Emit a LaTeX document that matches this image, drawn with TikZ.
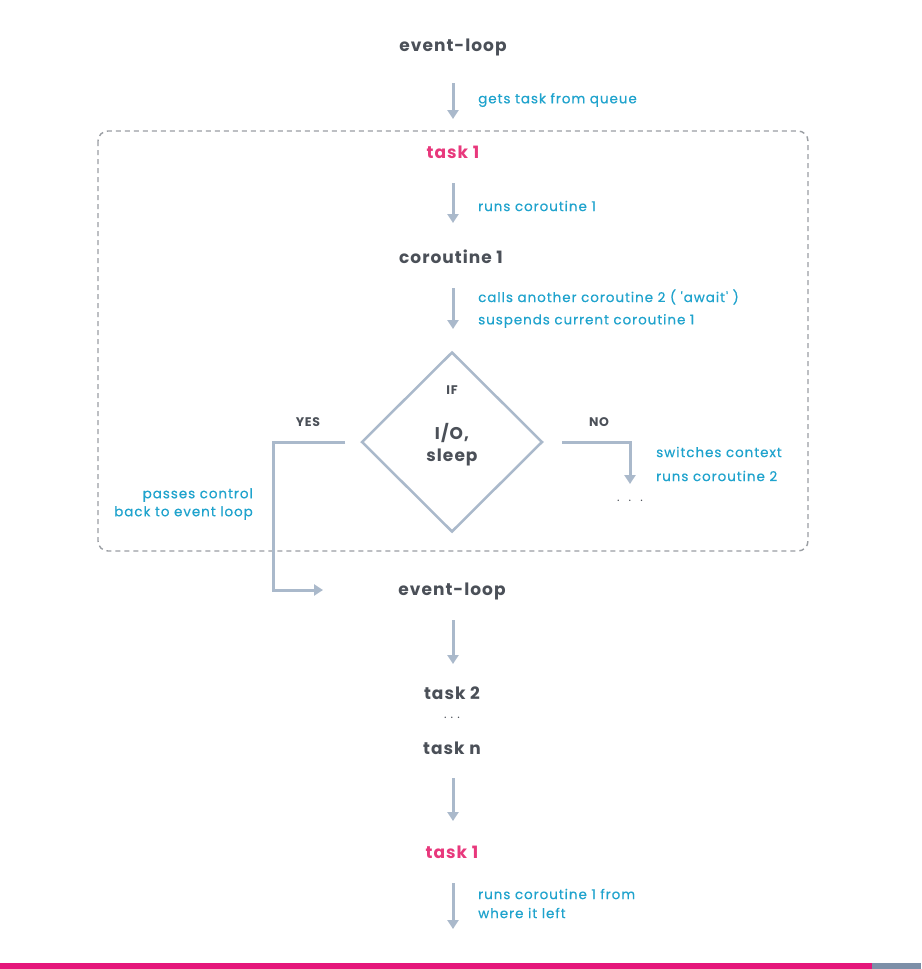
\documentclass[tikz,border=0pt]{standalone}
\usepackage{fontspec}
\setmainfont{Poppins}
\newfontfamily\mainf{Poppins}[LetterSpace=6]
\newfontfamily\sidef{Poppins}[LetterSpace=7,FakeBold=0.4]
\usetikzlibrary{arrows.meta,shapes.geometric}
\definecolor{txtdark}{HTML}{4B5058}
\definecolor{txtpink}{HTML}{E8387C}
\definecolor{txtcyan}{HTML}{1FA3CD}
\definecolor{arrowc}{HTML}{AAB9CB}
\definecolor{boxc}{HTML}{9A9EA3}
\definecolor{barpink}{HTML}{E5177B}
\definecolor{bargrey}{HTML}{7D8FA8}
\tikzset{
  mainlbl/.style={font=\mainf\fontsize{17}{19}\selectfont\bfseries, text=txtdark, inner sep=0pt},
  pinklbl/.style={font=\mainf\fontsize{17}{19}\selectfont\bfseries, text=txtpink, inner sep=0pt},
  sidelbl/.style={font=\sidef\fontsize{13.5}{15}\selectfont, text=txtcyan, inner sep=0pt},
  smalllbl/.style={font=\mainf\fontsize{12.5}{14}\selectfont\bfseries, text=txtdark, inner sep=0pt},
  flowarrow/.style={draw=arrowc, line width=3pt, -{Triangle[width=11pt,length=9pt]}},
  dotslbl/.style={font=\fontsize{12}{14}\selectfont, text=txtdark, inner sep=0pt},
}
\begin{document}
\begin{tikzpicture}[x=1pt,y=-1pt]
\useasboundingbox (0,0) rectangle (921,969);
\fill[white] (0,0) rectangle (921,969);
% bottom bar
\fill[barpink] (0,963) rectangle (872,969);
\fill[bargrey] (872,963) rectangle (921,969);
% dashed group box
\draw[boxc, line width=1.4pt, dash pattern=on 5pt off 4pt, rounded corners=10pt] (98,131) rectangle (808,551);

% nodes
\node[mainlbl] (el1) at (453,47) {event-loop};
\node[pinklbl] (t1) at (453,152) {task 1};
\node[mainlbl] (co1) at (451,257) {coroutine 1};
\node[draw=arrowc, line width=2.5pt, shape=diamond, minimum width=181pt, minimum height=180pt, inner sep=0pt] (dia) at (452,442) {};
\node[smalllbl] (if) at (452,390) {IF};
\node[mainlbl, align=center, font=\mainf\fontsize{17}{22}\selectfont\bfseries] (io) at (452,445) {I/O,\\sleep};
\node[smalllbl] (yes) at (308,422) {YES};
\node[smalllbl] (no) at (599,422) {NO};
\node[mainlbl] (el2) at (452,591) {event-loop};
\node[mainlbl] (t2) at (452,693) {task 2};
\node[dotslbl] (dots2) at (452,718) {.\hspace{4pt}.\hspace{4pt}.};
\node[mainlbl] (tn) at (452,748) {task n};
\node[pinklbl] (t1b) at (452,852) {task 1};

% side labels
\node[sidelbl, anchor=west] (l1) at (478,100) {gets task from queue};
\node[sidelbl, anchor=west] (l2) at (478,206) {runs coroutine 1};
\node[sidelbl, anchor=west] (l3a) at (478,297) {calls another coroutine 2 ( 'await' )};
\node[sidelbl, anchor=west] (l3b) at (478,321) {suspends current coroutine 1};
\node[sidelbl, anchor=west] (l4a) at (656,452) {switches context};
\node[sidelbl, anchor=west] (l4b) at (656,476) {runs coroutine 2};
\node[dotslbl] (dots1) at (630,501) {.\hspace{9pt}.\hspace{9pt}.};
\node[sidelbl, anchor=east] (l5a) at (253,495) {passes control};
\node[sidelbl, anchor=east] (l5b) at (253,513) {back to event loop};
\node[sidelbl, anchor=west] (l6a) at (478,894) {runs coroutine 1 from};
\node[sidelbl, anchor=west] (l6b) at (478,913) {where it left};

% connector coordinates
\coordinate (a1s) at (453,83);  \coordinate (a1e) at (453,119);
\coordinate (a2s) at (453,183); \coordinate (a2e) at (453,223);
\coordinate (a3s) at (453,288); \coordinate (a3e) at (453,329);
\coordinate (ys) at (345,442); \coordinate (yc1) at (273,442); \coordinate (yc2) at (273,590); \coordinate (ye) at (323,590);
\coordinate (ns) at (562,442); \coordinate (nc) at (630,442); \coordinate (ne) at (630,484);
\coordinate (a4s) at (453,620); \coordinate (a4e) at (453,664);
\coordinate (a5s) at (453,778); \coordinate (a5e) at (453,821);
\coordinate (a6s) at (453,883); \coordinate (a6e) at (453,929);

\draw[flowarrow] (a1s) -- (a1e);
\draw[flowarrow] (a2s) -- (a2e);
\draw[flowarrow] (a3s) -- (a3e);
\draw[flowarrow] (ys) -- (yc1) -- (yc2) -- (ye);
\draw[flowarrow] (ns) -- (nc) -- (ne);
\draw[flowarrow] (a4s) -- (a4e);
\draw[flowarrow] (a5s) -- (a5e);
\draw[flowarrow] (a6s) -- (a6e);
\end{tikzpicture}
\end{document}
